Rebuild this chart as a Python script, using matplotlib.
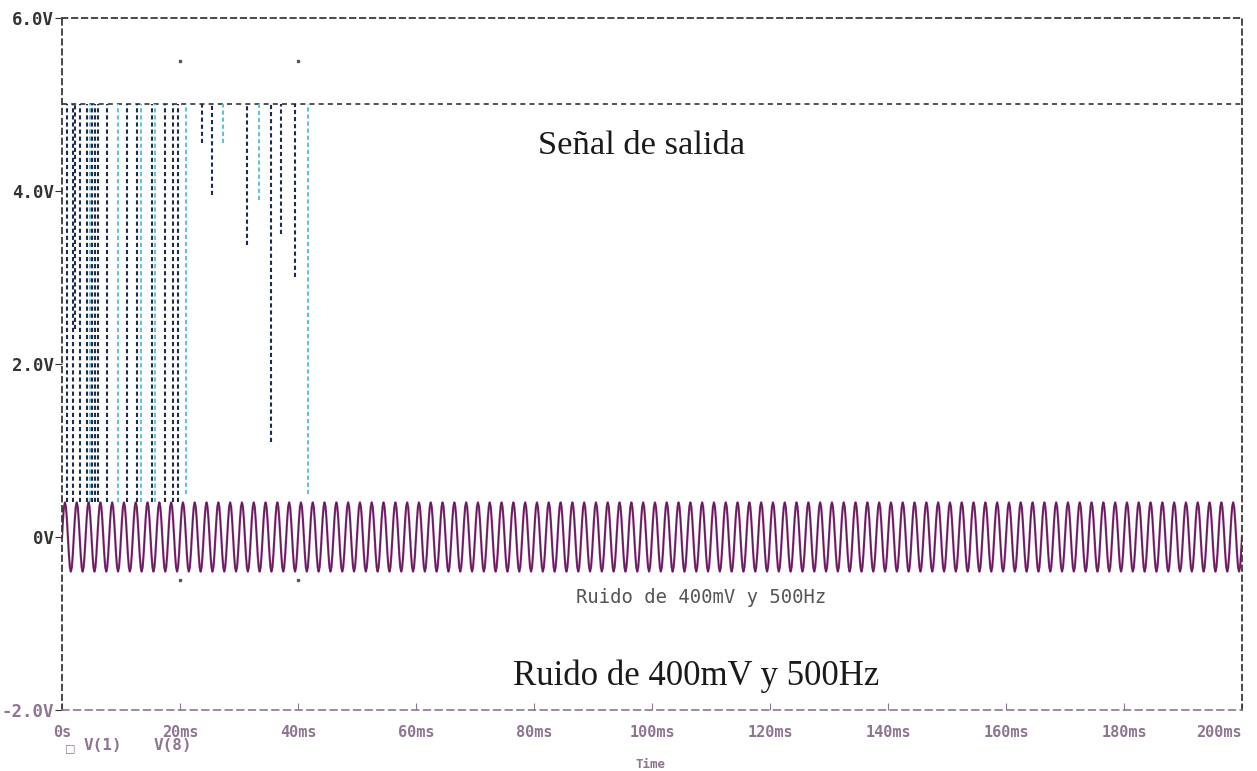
import matplotlib.pyplot as plt
import numpy as np

# V(1): one period of the 500 Hz / 400 mV noise source, 12 samples per 2 ms
noise_period_ms = 2.0
noise_cycle_v = [0.0, 0.2, 0.35, 0.4, 0.35, 0.2, 0.0, -0.2, -0.35, -0.4, -0.35, -0.2]
sim_end_ms = 200

# V(8): output rests at 5 V and drops down to spike_low_v at these instants
out_high_v = 5.0
spike_t_ms = [0.8, 1.9, 2.2, 3.0, 4.2, 4.7, 5.0, 5.6, 6.1, 7.6, 9.5, 11.0, 12.7, 13.4,
              15.3, 15.8, 17.5, 18.8, 19.7, 21.1, 23.7, 25.4, 27.3, 31.3, 33.4,
              35.4, 37.1, 39.5, 41.7]
spike_low_v = [0.4, 0.4, 2.4, 0.4, 0.4, 0.4, 0.4, 0.4, 0.4, 0.4, 0.4, 0.4, 0.4, 0.4,
               0.4, 0.4, 0.4, 0.4, 0.4, 0.5, 4.55, 3.95, 4.55, 3.37, 3.9,
               1.1, 3.5, 3.0, 0.5]
spike_cyan = [False, False, False, False, False, True, False, False, False, False, True, False, False, True,
              False, True, False, False, False, True, False, False, True, False, True,
              False, False, False, True]

# stray plot marks
mark_t_ms = [20, 40, 20, 40]
mark_v = [5.5, 5.5, -0.5, -0.5]

xtick_ms = [0, 20, 40, 60, 80, 100, 120, 140, 160, 180, 200]
xtick_labels = ['0s', '20ms', '40ms', '60ms', '80ms', '100ms', '120ms', '140ms', '160ms', '180ms', '200ms']
ytick_v = [-2, 0, 2, 4, 6]
ytick_labels = ['-2.0V', '0V', '2.0V', '4.0V', '6.0V']

purple = '#8c2f80'
axis_purple = '#8e7592'
navy = '#1d2b4c'
cyan = '#62c3d3'
mono = ['DejaVu Sans Mono']
serif = ['Liberation Serif', 'DejaVu Serif']

fig = plt.figure(figsize=(12.57, 7.71), dpi=100)
ax = fig.add_axes([62 / 1257, 1 - 710 / 771, 1180 / 1257, 692 / 771])

# output V(8)
ax.plot([0, sim_end_ms], [out_high_v, out_high_v], color='#333333', lw=1.2,
        linestyle=(0, (3, 2.5)))
for t, lo, cy in zip(spike_t_ms, spike_low_v, spike_cyan):
    ax.plot([t, t], [lo, out_high_v], color=cyan if cy else navy, lw=1.5,
            linestyle=(0, (2, 1.4)))

# noise V(1)
n_cycles = int(sim_end_ms / noise_period_ms)
step = noise_period_ms / len(noise_cycle_v)
noise_v = np.append(np.tile(noise_cycle_v, n_cycles), noise_cycle_v[0])
noise_t = np.arange(len(noise_v)) * step
ax.plot(noise_t, noise_v, color=purple, lw=1.6)
ax.plot(noise_t, noise_v, color='#3a1034', lw=0.5, alpha=0.8)

ax.plot(mark_t_ms, mark_v, linestyle='none', marker='s', ms=2, color='#555555')

ax.set_xlim(0, sim_end_ms)
ax.set_ylim(-2, 6)

ax.set_xticks(xtick_ms)
ax.set_xticklabels(xtick_labels, family=mono, fontsize=11, color=axis_purple, fontweight='bold')
ax.xaxis.get_ticklabels()[-1].set_ha('right')
ax.tick_params(axis='x', direction='in', length=5, color=axis_purple, pad=11)
ax.set_yticks(ytick_v)
ax.set_yticklabels(ytick_labels, family=mono, fontsize=12.5, color='#333333', fontweight='bold')
ax.yaxis.get_ticklabels()[0].set_color(axis_purple)
ax.tick_params(axis='y', direction='out', length=5, color='#333333', pad=1)

for side in ['top', 'left', 'right']:
    ax.spines[side].set_color('#3a3a3a')
    ax.spines[side].set_linewidth(1.3)
    ax.spines[side].set_linestyle((0, (3, 2.5)))
ax.spines['bottom'].set_color(axis_purple)
ax.spines['bottom'].set_linewidth(1.2)
ax.spines['bottom'].set_linestyle((0, (4, 3)))

# annotations
ax.text(0.403, 0.815, 'Señal de salida', transform=ax.transAxes, family=serif,
        fontsize=24.8, color='#1a1a1a', ha='left', va='center')
ax.text(0.382, 0.0485, 'Ruido de 400mV y 500Hz', transform=ax.transAxes, family=serif,
        fontsize=25, color='#1a1a1a', ha='left', va='center')
ax.text(0.436, 0.163, 'Ruido de 400mV y 500Hz', transform=ax.transAxes, family=mono,
        fontsize=13.6, color='#555555', ha='left', va='center')

# legend and axis title
fig.text(70 / 1257, 1 - 748 / 771, '\u25a1', family=['DejaVu Sans'], fontsize=8,
         color=axis_purple, ha='center', va='center')
fig.text(84 / 1257, 1 - 746 / 771, 'V(1)', family=mono, fontsize=11.5, fontweight='bold',
         color=axis_purple, ha='left', va='center')
fig.text(154 / 1257, 1 - 746 / 771, 'V(8)', family=mono, fontsize=11.5, fontweight='bold',
         color=axis_purple, ha='left', va='center')
fig.text(650 / 1257, 1 - 764 / 771, 'Time', family=mono, fontsize=9, fontweight='bold',
         color=axis_purple, ha='center', va='center')

fig.savefig('out.png', dpi=100, facecolor='white')
